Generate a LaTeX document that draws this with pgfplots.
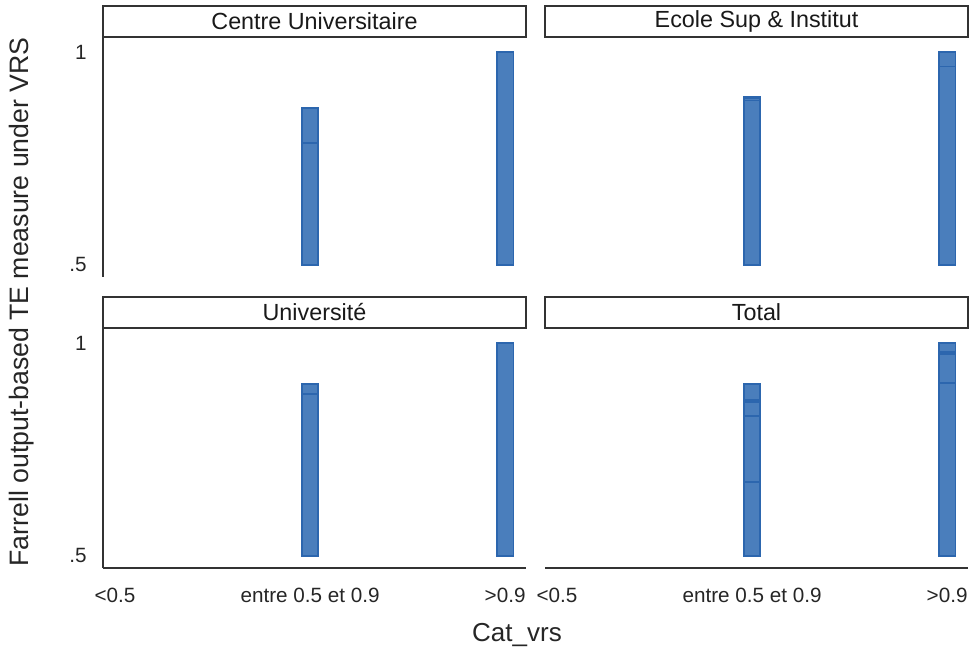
\documentclass[border=0pt]{standalone}
\usepackage{fontspec}
\setmainfont{Liberation Sans}
\usepackage{pgfplots}
\pgfplotsset{compat=1.18}
\definecolor{barfill}{RGB}{74,126,188}
\definecolor{bardraw}{RGB}{44,102,174}
\pgfplotsset{panel/.style={
  scale only axis, width=317.25pt, height=180pt,
  xmin=-0.0615, xmax=2.107, ymin=-0.0284, ymax=0.535,
  clip=false,
  ytick={0,0.5}, yticklabels={.5,1},
  xtick={0,1,2}, xticklabels={{<0.5},{entre 0.5 et 0.9},{>0.9}},
  major tick length=0pt,
  tick label style={font=\fontsize{15.5}{18}\selectfont, text=black!85},
  yticklabel style={anchor=east, inner sep=0pt, xshift=-12pt},
  xticklabel style={anchor=north, inner sep=0pt, yshift=-15pt},
  y filter/.expression={y-0.5},
  ybar, bar width=12.4pt, bar shift=0pt,
  /pgf/number format/assume math mode=true,
},
noarrow/.style={axis line style={line width=1.3pt, black!80, -}}}
\newcommand{\header}[1]{%
  \draw[line width=1.3pt, black!80, fill=white] (rel axis cs:0,1) rectangle (rel axis cs:1,1.129);
  \node[font=\fontsize{17.5}{20}\selectfont, text=black!90] at (rel axis cs:0.5,1.0646) {#1};}
\begin{document}
\begin{tikzpicture}
\useasboundingbox (0,0) rectangle (728.25pt,490.5pt);
% top-left
\begin{axis}[panel, at={(77.25pt,282.75pt)}, anchor=south west, axis x line=none, axis y line=left, noarrow]
\addplot[fill=barfill, draw=bardraw, line width=1.3pt] coordinates {(1,0.868) (1,0.787) (2,1.0)};
\header{Centre Universitaire}
\end{axis}
% top-right
\begin{axis}[panel, at={(408.75pt,282.75pt)}, anchor=south west, axis x line=none, axis y line=none, noarrow]
\addplot[fill=barfill, draw=bardraw, line width=1.3pt] coordinates {(1,0.895) (1,0.891) (1,0.886) (2,1.0) (2,0.966)};
\header{Ecole Sup \& Institut}
\end{axis}
% bottom-left
\begin{axis}[panel, at={(77.25pt,64.5pt)}, anchor=south west, axis x line=bottom, axis y line=left, noarrow]
\addplot[fill=barfill, draw=bardraw, line width=1.3pt] coordinates {(1,0.904) (1,0.880) (2,1.0)};
\header{Université}
\end{axis}
% bottom-right
\begin{axis}[panel, at={(408.75pt,64.5pt)}, anchor=south west, axis x line=bottom, axis y line=none, noarrow]
\addplot[fill=barfill, draw=bardraw, line width=1.3pt] coordinates {(1,0.904) (1,0.866) (1,0.861) (1,0.829) (1,0.673) (2,1.0) (2,0.978) (2,0.974) (2,0.906)};
\header{Total}
\end{axis}
\node[rotate=90, font=\fontsize{20}{22}\selectfont, text=black!85] at (16.5pt,264pt) {Farrell output-based TE measure under VRS};
\node[font=\fontsize{19.5}{22}\selectfont, text=black!85] at (387.75pt,14.25pt) {Cat\_vrs};
\end{tikzpicture}
\end{document}
